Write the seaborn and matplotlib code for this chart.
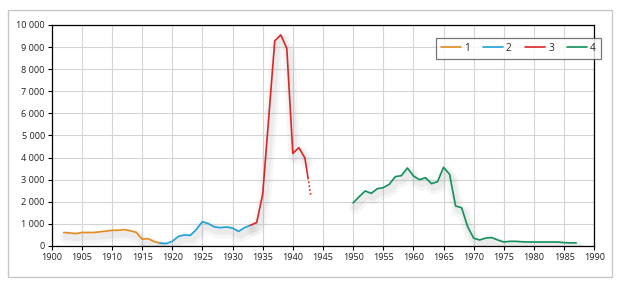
import matplotlib
matplotlib.use("Agg")
import matplotlib.pyplot as plt
import matplotlib.patheffects as pe
from matplotlib.patches import Rectangle
from matplotlib.ticker import FuncFormatter, MultipleLocator
import seaborn as sns
import pandas as pd

# ---- data ----
years1 = list(range(1902, 1919))
pop1 = [610, 590, 560, 610, 610, 610, 640, 670, 710, 710, 740, 690, 620, 310, 330, 200, 130]
years2 = list(range(1918, 1934))
pop2 = [130, 110, 210, 430, 500, 480, 750, 1100, 1010, 860, 830, 860, 810, 660, 830, 940]
years3 = list(range(1933, 1943))
pop3 = [940, 1060, 2350, 5800, 9280, 9550, 8940, 4190, 4450, 3980]
years3_est = [1942, 1943]
pop3_est = [3980, 2250]
years4 = list(range(1950, 1988))
pop4 = [1950, 2230, 2490, 2380, 2590, 2640, 2790, 3140, 3180, 3530, 3170, 3000, 3090, 2820,
        2910, 3560, 3240, 1810, 1730, 870, 350, 270, 360, 380, 270, 180, 210, 210, 190, 180,
        180, 180, 180, 180, 180, 150, 140, 140]
labels = ["1", "2", "3", "4"]
colors = ["#e58a1f", "#1ba1dc", "#dc2626", "#12915a"]

df = pd.concat([
    pd.DataFrame({"year": years1, "pop": pop1, "series": labels[0]}),
    pd.DataFrame({"year": years2, "pop": pop2, "series": labels[1]}),
    pd.DataFrame({"year": years3, "pop": pop3, "series": labels[2]}),
    pd.DataFrame({"year": years4, "pop": pop4, "series": labels[3]}),
])
df_est = pd.DataFrame({"year": years3_est, "pop": pop3_est})

sns.set_theme(style="white")
plt.rcParams["font.family"] = ["Open Sans", "DejaVu Sans"]
plt.rcParams["lines.scale_dashes"] = False

fig = plt.figure(figsize=(6.2, 2.86), dpi=100)
ax = fig.add_axes([0.0834, 0.1399, 0.8751, 0.7727])

shadow = [pe.SimpleLineShadow(offset=(1.5, -3.5), shadow_color="#909090", alpha=0.08, linewidth=9),
          pe.SimpleLineShadow(offset=(1.5, -3.0), shadow_color="#909090", alpha=0.10, linewidth=5),
          pe.Normal()]

sns.lineplot(data=df, x="year", y="pop", hue="series", palette=dict(zip(labels, colors)),
             ax=ax, linewidth=1.2, legend=False, sort=False, estimator=None)
for ln in ax.get_lines():
    ln.set_path_effects(shadow)

sns.lineplot(data=df_est, x="year", y="pop", ax=ax, color=colors[2], linewidth=1.2,
             estimator=None)
est_line = ax.get_lines()[-1]
est_line.set_linestyle((0, (15.5, 1.6, 1.2, 1.6, 1.2, 1.6, 1.2, 1.6, 1.2, 1.6, 1.2, 1.6, 1.2, 1.6, 1.2, 20)))

ax.set_xlim(1900, 1990)
ax.set_ylim(0, 10000)
ax.xaxis.set_major_locator(MultipleLocator(5))
ax.yaxis.set_major_locator(MultipleLocator(1000))
ax.yaxis.set_major_formatter(FuncFormatter(lambda v, p: f"{int(v):,}".replace(",", " ")))
ax.set_xlabel("")
ax.set_ylabel("")
ax.grid(True, color="#d4d4d4", linewidth=0.8)
ax.set_axisbelow(True)
for s in ax.spines.values():
    s.set_visible(True)
    s.set_color("black")
    s.set_linewidth(0.9)
ax.tick_params(axis="both", which="major", length=3, width=0.8, color="black",
               labelsize=6.6, labelcolor="#222222", pad=2, bottom=True, left=True)

handles = [plt.Line2D([], [], color=c, linewidth=1.2) for c in colors]
leg = fig.legend(handles, labels, loc="upper right", bbox_to_anchor=(0.9694, 0.868), ncol=4,
                 frameon=True, fancybox=False, fontsize=7.2, handlelength=2.0,
                 handletextpad=0.3, columnspacing=1.35, borderpad=0.5, borderaxespad=0)
leg.get_frame().set_edgecolor("#555555")
leg.get_frame().set_linewidth(0.9)
leg.get_frame().set_facecolor("white")

fig.patches.append(Rectangle((8 / 620, 1 - 276.5 / 286), 604 / 620, 266.5 / 286,
                             transform=fig.transFigure, fill=False, edgecolor="#c8c8c8",
                             linewidth=1.0))

fig.savefig("out.png", dpi=100)
